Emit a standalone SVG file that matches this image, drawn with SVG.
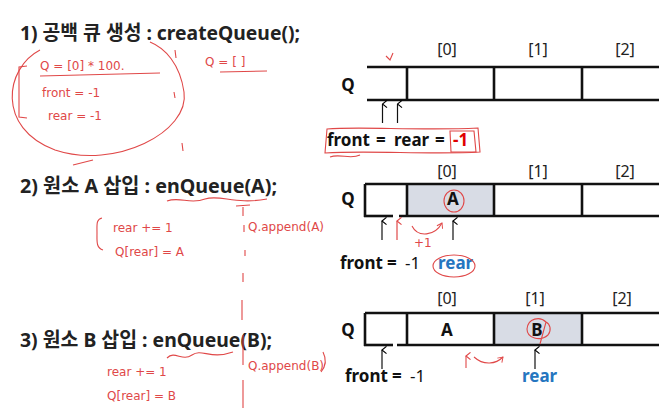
<svg xmlns="http://www.w3.org/2000/svg" width="659" height="412" viewBox="0 0 659 412">
<defs>
<marker id="ah" viewBox="0 0 10 10" refX="5" refY="1" markerWidth="9" markerHeight="9" markerUnits="userSpaceOnUse" orient="auto">
<path d="M1,6 L5,1 L9,6" fill="none" stroke="#000" stroke-width="1.3"/>
</marker>
<marker id="rah" viewBox="0 0 10 10" refX="5" refY="1" markerWidth="9" markerHeight="9" markerUnits="userSpaceOnUse" orient="auto">
<path d="M1,6 L5,1 L9,6" fill="none" stroke="#e04848" stroke-width="1.3"/>
</marker>
<marker id="rah2" viewBox="0 0 10 10" refX="9" refY="5" markerWidth="8" markerHeight="8" markerUnits="userSpaceOnUse" orient="auto">
<path d="M3,1 L9,5 L3,9" fill="none" stroke="#e04848" stroke-width="1.2"/>
</marker>
<style>
.title{font-family:"Noto Sans","Noto Sans CJK KR",sans-serif;font-weight:bold;font-size:20px;fill:#222}
.lbl{font-family:"Noto Sans","Noto Sans CJK KR",sans-serif;font-size:16px;fill:#222;text-anchor:middle}
.q{font-family:"Noto Sans",sans-serif;font-weight:bold;font-size:17px;fill:#111;text-anchor:middle}
.t{font-family:"Noto Sans",sans-serif;font-size:17px;fill:#111}
.b{font-weight:bold}
.blue{font-family:"Noto Sans",sans-serif;font-weight:bold;font-size:17px;fill:#2576c0}
.ln{stroke:#111;stroke-width:2.6;fill:none}
.cell{fill:#d8dce5}
.arr{stroke:#111;stroke-width:1.2;fill:none;marker-end:url(#ah)}
.red{stroke:#e04848;stroke-width:1.1;fill:none}
.hw{font-family:"DejaVu Sans",sans-serif;font-size:12px;fill:#e04848}
</style>
</defs>

<!-- Titles -->
<g id="title1"><text class="title" x="20" y="40" textLength="280" lengthAdjust="spacingAndGlyphs">1) 공백 큐 생성 : createQueue();</text></g>
<g id="title2"><text class="title" x="20" y="193" textLength="257" lengthAdjust="spacingAndGlyphs">2) 원소 A 삽입 : enQueue(A);</text></g>
<g id="title3"><text class="title" x="20" y="347" textLength="252" lengthAdjust="spacingAndGlyphs">3) 원소 B 삽입 : enQueue(B);</text></g>

<!-- Queue 1 -->
<g id="queue1">
<text class="lbl" x="447" y="55">[0]</text>
<text class="lbl" x="538" y="55">[1]</text>
<text class="lbl" x="625" y="55">[2]</text>
<text class="q" x="348" y="91">Q</text>
<line class="ln" x1="367" y1="67" x2="659" y2="67"/>
<line class="ln" x1="367" y1="100" x2="659" y2="100"/>
<line class="ln" x1="407" y1="67" x2="407" y2="100"/>
<line class="ln" x1="494" y1="67" x2="494" y2="100"/>
<line class="ln" x1="582" y1="67" x2="582" y2="100"/>
<text class="t b" y="146"><tspan x="327">front</tspan><tspan x="376">=</tspan><tspan x="394">rear</tspan><tspan x="435">=</tspan><tspan x="453" fill="#e00000">-1</tspan></text>
</g>

<!-- Queue 2 -->
<g id="queue2">
<text class="lbl" x="447" y="177">[0]</text>
<text class="lbl" x="538" y="177">[1]</text>
<text class="lbl" x="625" y="177">[2]</text>
<text class="q" x="348" y="205">Q</text>
<rect class="cell" x="407" y="184" width="87" height="32"/>
<line class="ln" x1="365" y1="184" x2="659" y2="184"/>
<line class="ln" x1="364" y1="216" x2="393" y2="216"/>
<line class="ln" x1="399" y1="216" x2="659" y2="216"/>
<line class="ln" x1="365" y1="184" x2="365" y2="217"/>
<line class="ln" x1="407" y1="184" x2="407" y2="216"/>
<line class="ln" x1="494" y1="184" x2="494" y2="216"/>
<line class="ln" x1="582" y1="184" x2="582" y2="216"/>
<text class="q" x="453" y="205">A</text>
<text class="t" y="269"><tspan class="b" x="340">front</tspan><tspan class="b" x="387">=</tspan><tspan x="405">-1</tspan></text>
<text class="blue" x="438" y="269">rear</text>
</g>

<!-- Queue 3 -->
<g id="queue3">
<text class="lbl" x="447" y="304">[0]</text>
<text class="lbl" x="535" y="304">[1]</text>
<text class="lbl" x="622" y="304">[2]</text>
<text class="q" x="348" y="336">Q</text>
<rect class="cell" x="494" y="313" width="88" height="32"/>
<line class="ln" x1="365" y1="313" x2="659" y2="313"/>
<line class="ln" x1="364" y1="345" x2="393" y2="345"/>
<line class="ln" x1="397" y1="345" x2="659" y2="345"/>
<line class="ln" x1="365" y1="313" x2="365" y2="346"/>
<line class="ln" x1="407" y1="313" x2="407" y2="345"/>
<line class="ln" x1="494" y1="313" x2="494" y2="345"/>
<line class="ln" x1="582" y1="313" x2="582" y2="345"/>
<text class="q" x="447" y="336">A</text>
<text class="q" x="537" y="336">B</text>
<text class="t" y="382"><tspan class="b" x="345">front</tspan><tspan class="b" x="392">=</tspan><tspan x="410">-1</tspan></text>
<text class="blue" x="522" y="382">rear</text>
</g>

<!-- Connectors (pointer arrows) -->
<g id="connectors">
<line class="arr" x1="382.5" y1="123" x2="382.5" y2="104"/>
<line class="arr" x1="397.5" y1="123" x2="397.5" y2="104"/>
<line class="arr" x1="382" y1="240" x2="382" y2="221"/>
<line class="arr" x1="453" y1="240" x2="453" y2="221"/>
<line class="arr" x1="382" y1="369" x2="382" y2="350"/>
<line class="arr" x1="535" y1="369" x2="535" y2="350"/>
</g>

<!-- Handwritten annotations -->
<g id="annotations">
<!-- section 1 -->
<path class="red" d="M40,50 C5,68 -4,128 55,150 C115,170 190,132 184,92 C180,64 165,48 150,42"/>
<path class="red" d="M27,66 L19,67 L19,117 L27,118"/>
<text class="hw" x="40" y="70">Q = [0] * 100.</text>
<path class="red" d="M40,76 L160,73"/>
<text class="hw" x="42" y="97">front = -1</text>
<text class="hw" x="48" y="120">rear = -1</text>
<text class="hw" x="205" y="66">Q = [ ]</text>
<path class="red" d="M220,72 L267,71"/>
<path class="red" d="M175,50 L176,58 M174,92 L175,98 M182,143 L183,151"/>
<path class="red" d="M393,53 L390,60 L386,56"/>
<path class="red" d="M327,129 C360,126 420,131 478,128 L480,152 C430,155 370,150 325,153 Z"/>
<path class="red" d="M450,131 L474,131 L476,152 L451,152 Z"/>
<path class="red" d="M330,157 C340,153 350,160 360,155"/>
<!-- section 2 -->
<path class="red" d="M73,165 L93,160"/>
<path class="red" d="M167,201 C180,196 190,205 205,199 C220,194 235,205 267,199"/>
<path class="red" d="M102,218 C96,219 97,225 97,233 C97,241 96,248 103,250"/>
<text class="hw" x="113" y="232">rear += 1</text>
<text class="hw" x="115" y="256">Q[rear] = A</text>
<text class="hw" x="248" y="231" font-size="11">Q.append(A)</text>
<path class="red" d="M236,206 L250,205 M243,207 L243,216 M244,225 L244,232 M245,250 L245,256 M243,273 L243,282 M242,300 L242,320 M243,335 L243,365 M243,380 L243,408"/>
<line x1="397" y1="240" x2="397" y2="221" stroke="#e04848" stroke-width="1.2" marker-end="url(#rah)"/>
<path class="red" d="M412,226 C418,238 435,236 442,223" marker-end="url(#rah2)"/>
<text class="hw" x="414" y="247" font-size="10">+1</text>
<ellipse class="red" cx="454" cy="201" rx="10" ry="11"/>
<ellipse class="red" cx="454" cy="266" rx="21" ry="11"/>
<!-- section 3 -->
<path class="red" d="M167,358 C175,350 182,362 192,355 C202,348 210,360 233,352"/>
<text class="hw" x="107" y="376">rear += 1</text>
<text class="hw" x="107" y="400">Q[rear] = B</text>
<text class="hw" x="248" y="370">Q.append(B)</text>
<line x1="466" y1="368" x2="466" y2="356" stroke="#e04848" stroke-width="1.1" marker-end="url(#rah)"/>
<path class="red" d="M474,357 C484,366 496,364 503,357" marker-end="url(#rah2)"/>
<path class="red" d="M546,322 C540,316 528,318 527,329 C527,338 540,342 548,335 C552,330 550,324 546,322 L540,344"/>
<path class="red" d="M323,352 C327,360 326,366 321,372"/>
</g>
</svg>
